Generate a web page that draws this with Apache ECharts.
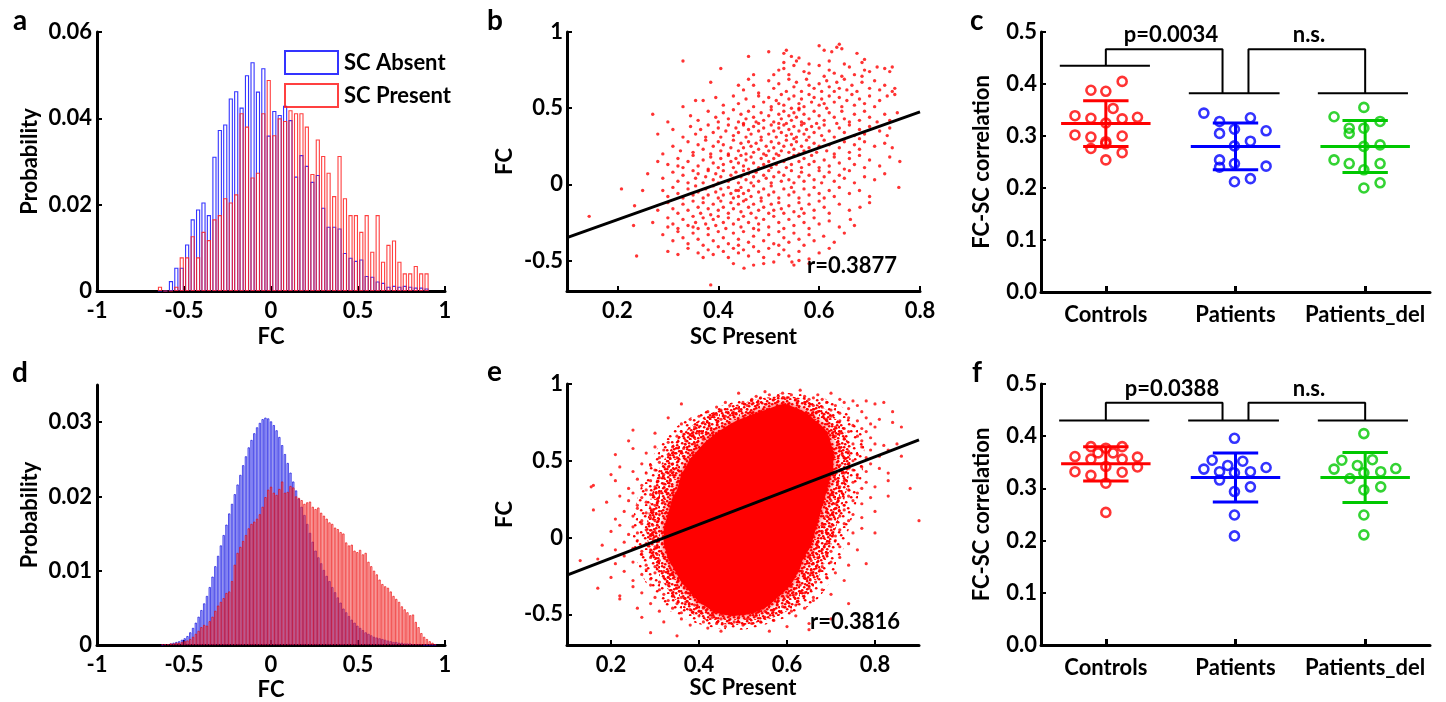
<!DOCTYPE html>
<html><head><meta charset="utf-8">
<script src="https://cdn.jsdelivr.net/npm/echarts/dist/echarts.min.js"></script>
<style>html,body{margin:0;padding:0;background:#fff}#c{width:1446px;height:702px}</style>
</head><body><div id="c"></div>
<script>
// ---------- Panel a: histogram (bin centres, probabilities) ----------
const aCenters = [-0.638,-0.607,-0.575,-0.544,-0.513,-0.482,-0.450,-0.419,-0.388,-0.357,-0.325,-0.294,-0.263,-0.231,-0.200,-0.169,-0.138,-0.106,-0.075,-0.044,-0.013,0.019,0.050,0.081,0.112,0.144,0.175,0.206,0.238,0.269,0.300,0.331,0.363,0.394,0.425,0.457,0.488,0.519,0.550,0.582,0.613,0.644,0.675,0.707,0.738,0.769,0.800,0.832,0.863,0.894];
const aAbsent = [0,0,0.0023,0.0054,0.0054,0.0108,0.0166,0.0189,0.0205,0.0176,0.0311,0.0373,0.0386,0.0446,0.0463,0.0425,0.0500,0.0530,0.0462,0.0516,0.0360,0.0417,0.0408,0.0429,0.0396,0.0265,0.0315,0.0290,0.0253,0.0269,0.0193,0.0149,0.0149,0.0145,0.0088,0.0077,0.0070,0.0073,0.0035,0.0033,0.0022,0.0019,0.0010,0.0012,0.0010,0.0012,0.0010,0.0008,0.0008,0.0006];
const aPresent = [0.0010,0,0,0.0010,0.0078,0.0078,0.0127,0.0078,0.0137,0.0118,0.0166,0.0176,0.0215,0.0205,0.0224,0.0412,0.0381,0.0263,0.0274,0.0412,0.0489,0.0361,0.0400,0.0394,0.0419,0.0412,0.0412,0.0381,0.0271,0.0351,0.0313,0.0274,0.0220,0.0313,0.0215,0.0176,0.0176,0.0137,0.0176,0.0091,0.0176,0.0068,0.0107,0.0117,0.0068,0.0041,0.0041,0.0058,0.0041,0.0041];

// ---------- Panel d: histogram ----------
const dCenters = [-0.624,-0.608,-0.592,-0.576,-0.560,-0.544,-0.528,-0.512,-0.496,-0.480,-0.464,-0.448,-0.432,-0.416,-0.400,-0.384,-0.368,-0.352,-0.336,-0.320,-0.304,-0.288,-0.272,-0.256,-0.240,-0.224,-0.208,-0.192,-0.176,-0.160,-0.144,-0.128,-0.112,-0.096,-0.080,-0.064,-0.048,-0.032,-0.016,0.000,0.016,0.032,0.048,0.064,0.080,0.096,0.112,0.128,0.144,0.160,0.176,0.192,0.208,0.224,0.240,0.256,0.272,0.288,0.304,0.320,0.336,0.352,0.368,0.384,0.400,0.416,0.432,0.448,0.464,0.480,0.496,0.512,0.528,0.544,0.560,0.576,0.592,0.608,0.624,0.640,0.656,0.672,0.688,0.704,0.720,0.736,0.752,0.768,0.784,0.800,0.816,0.832,0.848,0.864,0.880,0.896,0.912,0.928,0.944];
const dAbsent = [0,0.0001,0.0001,0.0002,0.0003,0.0004,0.0005,0.0007,0.0009,0.0012,0.0017,0.0023,0.0030,0.0038,0.0047,0.0056,0.0066,0.0078,0.0092,0.0106,0.0120,0.0134,0.0148,0.0162,0.0177,0.0190,0.0203,0.0216,0.0229,0.0242,0.0254,0.0266,0.0276,0.0285,0.0293,0.0299,0.0304,0.0306,0.0305,0.0301,0.0296,0.0289,0.0280,0.0269,0.0257,0.0245,0.0232,0.0220,0.0208,0.0197,0.0186,0.0175,0.0163,0.0151,0.0139,0.0127,0.0118,0.0110,0.0101,0.0093,0.0086,0.0078,0.0071,0.0064,0.0057,0.0049,0.0044,0.0039,0.0034,0.0030,0.0026,0.0023,0.0020,0.0017,0.0015,0.0013,0.0011,0.0010,0.0009,0.0008,0.0007,0.0006,0.0005,0.0004,0.0004,0.0003,0.0003,0.0002,0.0002,0.0002,0.0001,0.0001,0.0001,0.0001,0,0,0,0,0];
const dPresent = [0.0001,0.0001,0.0001,0.0002,0.0002,0.0003,0.0003,0.0004,0.0005,0.0006,0.0008,0.0011,0.0015,0.0019,0.0024,0.0027,0.0026,0.0032,0.0038,0.0046,0.0053,0.0058,0.0063,0.0070,0.0072,0.0086,0.0108,0.0124,0.0132,0.0140,0.0148,0.0157,0.0163,0.0166,0.0170,0.0176,0.0186,0.0199,0.0209,0.0213,0.0205,0.0202,0.0210,0.0220,0.0205,0.0206,0.0214,0.0212,0.0200,0.0198,0.0195,0.0190,0.0192,0.0193,0.0186,0.0183,0.0185,0.0178,0.0174,0.0170,0.0165,0.0163,0.0158,0.0156,0.0152,0.0150,0.0138,0.0134,0.0135,0.0127,0.0125,0.0128,0.0122,0.0124,0.0112,0.0106,0.0100,0.0095,0.0088,0.0082,0.0079,0.0077,0.0072,0.0066,0.0062,0.0058,0.0052,0.0048,0.0044,0.0040,0.0041,0.0031,0.0024,0.0016,0.0011,0.0008,0.0005,0.0003,0.0001];

// ---------- Panel b: scatter (SC present, FC) ----------
const bPoints = [
[.33,.81],[.46,.84],[.50,.87],[.53,.86],[.535,.88],[.545,.84],[.56,.83],[.60,.91],[.61,.88],[.625,.87],[.635,.90],[.64,.92],[.645,.89],[.675,.86],[.69,.82],[.685,.80],[.53,.80],[.555,.81],[.62,.81],
[.405,.76],[.47,.72],[.51,.72],[.53,.76],[.54,.72],[.55,.78],[.57,.74],[.58,.73],[.60,.78],[.61,.71],[.62,.75],[.63,.73],[.645,.71],[.66,.77],[.67,.72],[.69,.75],[.70,.74],[.715,.77],[.73,.76],[.74,.74],[.745,.77],[.52,.75],[.58,.79],[.65,.79],[.685,.71],
[.385,.67],[.44,.65],[.45,.62],[.47,.65],[.48,.60],[.50,.68],[.51,.63],[.52,.66],[.535,.61],[.54,.69],[.55,.64],[.555,.67],[.565,.61],[.575,.69],[.59,.63],[.60,.66],[.605,.61],[.615,.68],[.62,.64],[.63,.61],[.635,.67],[.64,.63],[.65,.69],[.655,.62],[.665,.65],[.675,.61],[.685,.67],[.70,.63],[.71,.68],[.72,.62],[.73,.65],[.745,.61],[.75,.63],[.46,.69],[.58,.65],
[.33,.51],[.355,.55],[.37,.55],[.395,.57],[.41,.52],[.43,.58],[.44,.53],[.455,.56],[.47,.51],[.48,.58],[.49,.54],[.50,.57],[.505,.51],[.515,.55],[.525,.59],[.53,.52],[.54,.56],[.545,.50],[.55,.58],[.56,.53],[.565,.56],[.57,.51],[.58,.59],[.585,.54],[.59,.57],[.60,.52],[.605,.56],[.615,.50],[.62,.58],[.63,.54],[.64,.57],[.645,.51],[.655,.55],[.665,.59],[.67,.52],[.68,.56],[.69,.53],[.70,.58],[.71,.51],[.72,.55],[.735,.58],[.75,.59],[.52,.53],[.56,.50],[.61,.53],
[.27,.46],[.30,.41],[.345,.45],[.36,.42],[.38,.48],[.395,.44],[.40,.41],[.41,.47],[.42,.43],[.43,.49],[.44,.41],[.445,.46],[.45,.40],[.455,.43],[.46,.48],[.47,.44],[.475,.41],[.485,.47],[.49,.42],[.50,.45],[.505,.49],[.51,.41],[.52,.46],[.525,.43],[.53,.48],[.535,.40],[.54,.45],[.545,.42],[.55,.47],[.555,.44],[.56,.49],[.565,.41],[.57,.46],[.58,.43],[.59,.48],[.595,.40],[.60,.45],[.61,.42],[.62,.47],[.63,.44],[.635,.40],[.645,.48],[.65,.43],[.66,.41],[.67,.46],[.68,.42],[.69,.48],[.70,.44],[.715,.41],[.73,.46],[.74,.42],[.755,.47],[.48,.40],[.52,.40],[.57,.40],
[.28,.33],[.31,.36],[.33,.31],[.345,.38],[.355,.33],[.365,.36],[.375,.31],[.38,.39],[.39,.34],[.40,.37],[.405,.31],[.415,.35],[.42,.39],[.43,.32],[.435,.37],[.44,.34],[.45,.39],[.455,.31],[.46,.36],[.465,.33],[.47,.38],[.48,.35],[.485,.31],[.49,.37],[.50,.33],[.505,.39],[.51,.35],[.515,.31],[.52,.37],[.525,.34],[.53,.39],[.535,.32],[.54,.36],[.545,.33],[.55,.38],[.555,.31],[.56,.35],[.565,.39],[.57,.33],[.575,.36],[.58,.31],[.585,.38],[.59,.34],[.60,.37],[.605,.32],[.61,.39],[.62,.35],[.63,.31],[.64,.37],[.65,.34],[.66,.39],[.67,.32],[.68,.36],[.69,.33],[.70,.38],[.72,.35],[.735,.32],[.74,.37],[.68,.30],[.55,.30],
[.29,.20],[.31,.25],[.325,.22],[.34,.28],[.35,.21],[.36,.26],[.37,.23],[.375,.29],[.385,.20],[.39,.25],[.40,.28],[.405,.22],[.41,.26],[.42,.20],[.425,.24],[.43,.29],[.44,.22],[.445,.27],[.45,.24],[.455,.20],[.46,.28],[.465,.25],[.47,.21],[.475,.27],[.48,.23],[.485,.29],[.49,.20],[.495,.25],[.50,.22],[.505,.28],[.51,.24],[.515,.20],[.52,.27],[.525,.22],[.53,.25],[.535,.29],[.54,.21],[.545,.26],[.55,.23],[.555,.28],[.56,.20],[.565,.25],[.57,.22],[.575,.29],[.58,.24],[.59,.27],[.595,.21],[.60,.25],[.61,.29],[.615,.22],[.62,.26],[.63,.20],[.64,.24],[.65,.28],[.66,.21],[.67,.26],[.68,.23],[.69,.28],[.71,.25],[.73,.27],[.745,.24],
[.30,.13],[.32,.17],[.33,.11],[.34,.15],[.35,.19],[.36,.12],[.37,.16],[.38,.10],[.385,.18],[.39,.14],[.40,.11],[.405,.17],[.41,.13],[.42,.19],[.425,.15],[.43,.11],[.435,.17],[.44,.14],[.445,.19],[.45,.12],[.455,.16],[.46,.10],[.465,.18],[.47,.14],[.48,.11],[.485,.17],[.49,.13],[.495,.19],[.50,.15],[.505,.11],[.51,.17],[.515,.13],[.52,.19],[.53,.15],[.535,.11],[.54,.17],[.545,.13],[.55,.19],[.56,.15],[.565,.11],[.57,.17],[.58,.13],[.585,.19],[.59,.15],[.60,.11],[.61,.16],[.62,.12],[.63,.18],[.64,.14],[.65,.10],[.66,.17],[.67,.13],[.68,.19],[.69,.11],[.70,.16],[.72,.12],[.74,.18],[.76,.15],[.32,.12],[.28,.15],
[.26,.07],[.29,.04],[.31,.08],[.32,.02],[.33,.06],[.34,.01],[.35,.09],[.355,.04],[.36,.07],[.37,.01],[.375,.05],[.38,.09],[.39,.03],[.395,.07],[.40,.01],[.405,.05],[.41,.09],[.42,.02],[.425,.06],[.43,.04],[.435,.08],[.44,.01],[.445,.05],[.45,.09],[.455,.03],[.46,.07],[.465,.01],[.47,.05],[.475,.08],[.48,.02],[.49,.06],[.495,.04],[.50,.09],[.505,.01],[.51,.05],[.52,.08],[.525,.02],[.53,.06],[.54,.03],[.545,.09],[.55,.01],[.56,.05],[.565,.08],[.57,.02],[.58,.06],[.59,.03],[.60,.09],[.605,.01],[.61,.05],[.62,.08],[.63,.02],[.64,.06],[.65,.04],[.66,.09],[.67,.01],[.69,.05],[.71,.03],[.73,.07],
[.208,-.03],[.25,-.04],[.29,-.04],[.30,-.08],[.31,-.02],[.32,-.06],[.33,-.09],[.34,-.03],[.35,-.07],[.355,-.01],[.36,-.05],[.37,-.09],[.375,-.03],[.38,-.07],[.39,-.01],[.395,-.05],[.40,-.09],[.405,-.03],[.41,-.07],[.42,-.02],[.425,-.06],[.43,-.09],[.435,-.04],[.44,-.08],[.445,-.02],[.45,-.06],[.455,-.10],[.46,-.04],[.465,-.08],[.47,-.01],[.48,-.05],[.485,-.09],[.49,-.03],[.50,-.07],[.505,-.01],[.51,-.05],[.52,-.09],[.53,-.03],[.54,-.07],[.545,-.02],[.55,-.05],[.56,-.09],[.57,-.03],[.58,-.07],[.59,-.02],[.60,-.06],[.61,-.09],[.62,-.04],[.63,-.08],[.64,-.02],[.66,-.06],[.68,-.04],[.70,-.08],[.758,-.02],[.44,-.04],
[.144,-.21],[.234,-.14],[.28,-.17],[.30,-.12],[.31,-.16],[.32,-.19],[.33,-.13],[.34,-.17],[.35,-.11],[.36,-.15],[.365,-.19],[.37,-.12],[.38,-.16],[.385,-.20],[.39,-.13],[.40,-.17],[.405,-.11],[.41,-.15],[.42,-.19],[.425,-.12],[.43,-.16],[.44,-.13],[.445,-.18],[.45,-.11],[.46,-.15],[.465,-.19],[.47,-.13],[.48,-.17],[.485,-.11],[.49,-.15],[.50,-.19],[.505,-.13],[.51,-.17],[.52,-.12],[.525,-.16],[.53,-.19],[.54,-.14],[.55,-.18],[.56,-.12],[.565,-.16],[.57,-.19],[.58,-.13],[.59,-.17],[.60,-.11],[.61,-.15],[.62,-.19],[.64,-.13],[.66,-.17],[.681,-.15],[.70,-.12],
[.232,-.27],[.27,-.25],[.30,-.22],[.31,-.26],[.32,-.29],[.33,-.23],[.34,-.27],[.35,-.21],[.355,-.25],[.36,-.29],[.37,-.22],[.375,-.26],[.38,-.29],[.39,-.23],[.395,-.27],[.40,-.21],[.41,-.25],[.415,-.29],[.42,-.22],[.43,-.26],[.44,-.23],[.445,-.28],[.45,-.21],[.46,-.25],[.47,-.29],[.475,-.22],[.48,-.26],[.49,-.23],[.50,-.28],[.51,-.21],[.52,-.25],[.53,-.29],[.54,-.23],[.55,-.27],[.56,-.21],[.57,-.25],[.58,-.29],[.59,-.22],[.60,-.26],[.62,-.24],[.64,-.28],[.662,-.23],[.67,-.27],[.30,-.28],[.35,-.28],
[.29,-.33],[.31,-.37],[.32,-.31],[.33,-.35],[.34,-.39],[.35,-.32],[.36,-.36],[.37,-.40],[.38,-.33],[.39,-.37],[.40,-.31],[.41,-.35],[.42,-.39],[.43,-.32],[.44,-.36],[.45,-.31],[.46,-.38],[.47,-.34],[.48,-.30],[.49,-.37],[.50,-.33],[.51,-.39],[.52,-.31],[.53,-.35],[.54,-.38],[.55,-.32],[.56,-.36],[.57,-.40],[.58,-.33],[.59,-.37],[.609,-.34],[.63,-.38],[.65,-.32],[.44,-.40],[.52,-.40],
[.238,-.47],[.30,-.44],[.32,-.46],[.34,-.42],[.36,-.45],[.37,-.48],[.38,-.43],[.39,-.46],[.40,-.41],[.41,-.44],[.42,-.48],[.43,-.42],[.44,-.45],[.45,-.43],[.46,-.47],[.47,-.41],[.48,-.44],[.49,-.48],[.50,-.42],[.52,-.46],[.53,-.43],[.54,-.47],[.56,-.44],[.58,-.49],[.60,-.45],[.62,-.42],
[.451,-.55],[.43,-.52],[.47,-.53],[.51,-.51],[.546,-.51],[.55,-.53],[.56,-.50],[.385,-.66],[.49,-.52],[.58,-.52]
];
const bFit = [[0.1,-0.35],[0.8,0.476]];

// ---------- Panel e: saturated core / dense-speckle / sparse-speckle outlines + sparse points ----------
const eCoreOutline = [[0.44,-0.49],[0.41,-0.44],[0.39,-0.39],[0.375,-0.34],[0.36,-0.29],[0.35,-0.24],[0.34,-0.19],[0.33,-0.14],[0.325,-0.09],[0.32,-0.04],[0.32,0.01],[0.32,0.06],[0.325,0.11],[0.33,0.16],[0.335,0.21],[0.34,0.26],[0.35,0.31],[0.355,0.36],[0.36,0.41],[0.37,0.46],[0.38,0.51],[0.395,0.56],[0.41,0.61],[0.43,0.66],[0.455,0.71],[0.485,0.76],[0.52,0.80],[0.56,0.84],[0.59,0.87],[0.615,0.85],[0.645,0.81],[0.665,0.76],[0.685,0.71],[0.695,0.66],[0.70,0.61],[0.705,0.56],[0.705,0.50],[0.705,0.45],[0.70,0.40],[0.695,0.35],[0.69,0.30],[0.685,0.25],[0.68,0.20],[0.675,0.15],[0.67,0.10],[0.665,0.05],[0.66,0],[0.655,-0.05],[0.645,-0.10],[0.635,-0.15],[0.63,-0.20],[0.62,-0.25],[0.61,-0.30],[0.595,-0.35],[0.575,-0.40],[0.555,-0.45],[0.525,-0.49],[0.48,-0.51]];
const eInnerOutline = [[0.43,-0.55],[0.38,-0.49],[0.35,-0.42],[0.33,-0.34],[0.31,-0.25],[0.295,-0.15],[0.285,-0.05],[0.28,0.05],[0.285,0.15],[0.29,0.25],[0.30,0.35],[0.31,0.45],[0.33,0.55],[0.35,0.64],[0.38,0.72],[0.42,0.80],[0.48,0.86],[0.55,0.91],[0.60,0.92],[0.64,0.90],[0.68,0.85],[0.71,0.78],[0.73,0.70],[0.74,0.60],[0.745,0.50],[0.74,0.40],[0.735,0.30],[0.725,0.20],[0.715,0.10],[0.705,0],[0.695,-0.10],[0.68,-0.20],[0.665,-0.30],[0.64,-0.40],[0.60,-0.48],[0.55,-0.54],[0.49,-0.57]];
const eBandOutline = [[0.42,-0.58],[0.36,-0.52],[0.32,-0.45],[0.30,-0.38],[0.28,-0.30],[0.265,-0.20],[0.255,-0.10],[0.25,0],[0.25,0.10],[0.255,0.20],[0.265,0.30],[0.275,0.40],[0.29,0.50],[0.31,0.60],[0.34,0.70],[0.38,0.78],[0.44,0.85],[0.52,0.91],[0.58,0.94],[0.65,0.93],[0.70,0.89],[0.74,0.82],[0.765,0.72],[0.775,0.60],[0.775,0.50],[0.77,0.40],[0.765,0.30],[0.755,0.20],[0.745,0.10],[0.735,0],[0.725,-0.10],[0.71,-0.20],[0.695,-0.30],[0.67,-0.40],[0.63,-0.48],[0.57,-0.55],[0.50,-0.60]];
const ePoints = [
[.49,.94],[.53,.92],[.55,.95],[.56,.93],[.58,.92],[.59,.94],[.60,.91],[.61,.93],[.63,.96],[.64,.92],[.66,.91],[.67,.93],[.70,.94],[.72,.90],[.52,.90],[.54,.91],[.57,.90],[.62,.90],[.65,.90],[.68,.90],
[.36,.87],[.42,.82],[.44,.85],[.45,.83],[.46,.88],[.47,.86],[.48,.81],[.49,.84],[.50,.88],[.51,.86],[.52,.89],[.535,.87],[.64,.88],[.66,.86],[.67,.82],[.68,.85],[.69,.88],[.70,.83],[.71,.86],[.72,.81],[.73,.88],[.74,.84],[.75,.89],[.76,.86],[.78,.89],[.80,.87],[.82,.88],[.77,.82],[.84,.82],
[.25,.70],[.33,.78],[.36,.74],[.38,.77],[.39,.72],[.40,.79],[.41,.75],[.42,.71],[.425,.78],[.44,.80],[.45,.77],[.46,.79],[.70,.79],[.71,.72],[.72,.76],[.73,.71],[.74,.78],[.75,.73],[.76,.76],[.77,.71],[.78,.78],[.79,.74],[.80,.72],[.81,.77],[.84,.75],[.86,.72],[.69,.77],
[.24,.63],[.30,.68],[.33,.62],[.35,.66],[.36,.69],[.37,.63],[.38,.67],[.39,.61],[.40,.68],[.41,.64],[.39,.65],[.715,.62],[.72,.68],[.73,.64],[.74,.69],[.75,.61],[.76,.66],[.77,.63],[.78,.69],[.79,.65],[.80,.61],[.82,.60],[.85,.61],[.71,.66],
[.21,.54],[.25,.58],[.28,.55],[.30,.59],[.31,.52],[.32,.57],[.33,.54],[.34,.59],[.35,.52],[.36,.56],[.37,.51],[.365,.58],[.72,.58],[.73,.52],[.74,.56],[.75,.50],[.76,.54],[.77,.59],[.78,.52],[.79,.57],[.81,.53],[.86,.53],[.83,.57],[.725,.54],
[.20,.41],[.22,.46],[.25,.43],[.27,.48],[.28,.42],[.29,.47],[.30,.44],[.31,.49],[.32,.41],[.33,.46],[.335,.43],[.34,.48],[.72,.47],[.73,.42],[.74,.48],[.75,.44],[.76,.41],[.77,.46],[.78,.43],[.79,.48],[.81,.45],[.83,.42],[.725,.44],
[.16,.34],[.155,.33],[.21,.37],[.24,.32],[.26,.38],[.27,.34],[.28,.31],[.29,.37],[.30,.33],[.31,.39],[.32,.35],[.325,.31],[.335,.37],[.71,.38],[.72,.33],[.73,.37],[.74,.31],[.75,.36],[.76,.39],[.77,.32],[.78,.36],[.80,.33],[.83,.37],[.88,.32],[.715,.35],
[.19,.23],[.22,.27],[.24,.24],[.25,.29],[.26,.21],[.27,.26],[.28,.23],[.29,.28],[.30,.21],[.305,.25],[.31,.29],[.32,.23],[.70,.28],[.71,.22],[.72,.26],[.73,.21],[.74,.27],[.75,.24],[.76,.29],[.77,.22],[.79,.26],[.83,.27],[.70,.24],
[.16,.18],[.21,.12],[.23,.17],[.25,.14],[.26,.19],[.27,.11],[.28,.16],[.29,.13],[.295,.18],[.30,.11],[.31,.15],[.69,.17],[.70,.12],[.71,.19],[.72,.14],[.73,.18],[.74,.11],[.75,.15],[.77,.13],[.90,.11],[.80,.17],[.69,.14],
[.20,.04],[.22,.08],[.24,.02],[.25,.07],[.26,.03],[.27,.09],[.28,.05],[.29,.01],[.295,.08],[.30,.04],[.68,.08],[.69,.03],[.70,.07],[.71,.01],[.72,.05],[.73,.09],[.75,.03],[.77,.06],[.80,.03],[.68,.04],
[.18,-.05],[.21,-.08],[.23,-.03],[.25,-.07],[.26,-.02],[.27,-.09],[.28,-.04],[.29,-.08],[.295,-.01],[.30,-.06],[.67,-.03],[.68,-.08],[.69,-.04],[.70,-.09],[.71,-.02],[.72,-.06],[.74,-.04],[.76,-.08],[.67,-.06],
[.13,-.15],[.17,-.14],[.21,-.17],[.23,-.12],[.25,-.16],[.27,-.11],[.28,-.18],[.29,-.13],[.30,-.19],[.305,-.11],[.31,-.15],[.65,-.12],[.66,-.17],[.67,-.13],[.68,-.19],[.69,-.11],[.70,-.16],[.72,-.13],[.74,-.18],[.78,-.17],[.655,-.15],
[.20,-.26],[.23,-.22],[.25,-.28],[.27,-.24],[.28,-.21],[.29,-.27],[.30,-.23],[.31,-.29],[.32,-.22],[.33,-.26],[.335,-.24],[.635,-.22],[.645,-.27],[.655,-.23],[.665,-.29],[.675,-.21],[.69,-.26],[.71,-.23],[.73,-.28],[.64,-.25],
[.17,-.33],[.22,-.38],[.25,-.32],[.27,-.36],[.29,-.31],[.30,-.39],[.31,-.34],[.32,-.37],[.33,-.31],[.34,-.38],[.35,-.33],[.36,-.39],[.37,-.36],[.61,-.32],[.62,-.37],[.63,-.31],[.64,-.36],[.65,-.33],[.66,-.39],[.68,-.34],[.70,-.37],[.60,-.38],
[.22,-.40],[.26,-.46],[.29,-.43],[.31,-.48],[.33,-.41],[.34,-.46],[.35,-.43],[.36,-.49],[.37,-.42],[.38,-.47],[.39,-.44],[.40,-.48],[.41,-.46],[.55,-.48],[.56,-.43],[.57,-.47],[.58,-.41],[.59,-.45],[.60,-.42],[.61,-.48],[.62,-.44],[.64,-.46],[.66,-.41],[.74,-.43],[.545,-.46],
[.27,-.52],[.32,-.55],[.36,-.53],[.38,-.57],[.40,-.51],[.41,-.55],[.42,-.59],[.43,-.52],[.44,-.56],[.45,-.53],[.46,-.58],[.47,-.51],[.48,-.55],[.49,-.52],[.50,-.57],[.51,-.53],[.52,-.56],[.53,-.51],[.54,-.55],[.55,-.52],[.57,-.54],[.60,-.58],[.62,-.51],[.65,-.56],[.70,-.53],[.45,-.50],[.50,-.50],
[.29,-.62],[.35,-.64],[.56,-.61],[.65,-.60],[.45,-.61]
];
const eFit = [[0.1,-0.245],[0.9,0.636]];

// ---------- Panels c and f: group scatter + mean ± SD ----------
const groups = ['Controls','Patients','Patients_del'];
const groupColors = ['#ff0000','#0000ff','#00c800'];
const cControls = [[1.126,.405],[.885,.388],[1.0,.386],[1.056,.353],[.762,.339],[.885,.334],[1.0,.325],[1.126,.333],[1.244,.336],[.762,.302],[.885,.298],[1.0,.289],[1.126,.300],[.885,.276],[1.0,.285],[1.126,.268],[1.0,.254]];
const cPatients = [[1.756,.344],[1.877,.328],[1.992,.313],[2.115,.335],[1.877,.305],[2.236,.310],[2.115,.290],[1.992,.281],[1.877,.254],[1.992,.247],[1.877,.240],[2.236,.242],[1.992,.212],[2.115,.218]];
const cPatientsDel = [[2.76,.337],[2.76,.254],[2.877,.315],[2.877,.305],[2.877,.247],[2.99,.355],[2.99,.315],[2.99,.280],[2.99,.235],[2.99,.200],[3.115,.328],[3.115,.283],[3.115,.247],[3.115,.210]];
const cMeans = [0.324,0.280,0.280];
const cSds = [0.044,0.045,0.050];
const cLevels = [[[.645,.435],[1.34,.435]],[[1.64,.382],[2.34,.382]],[[2.635,.382],[3.33,.382]]];
const cBrackets = [[[1,.435],[1,.467],[1.9,.467],[1.9,.382]],[[2.1,.382],[2.1,.467],[3,.467],[3,.382]]];
const cLabels = ['p=0.0034','n.s.'];

const fControls = [[.885,.380],[1.0,.377],[1.126,.380],[.94,.368],[1.056,.368],[.762,.361],[.885,.356],[1.126,.356],[1.244,.360],[1.0,.342],[.762,.332],[.885,.325],[1.126,.331],[1.244,.341],[1.0,.310],[1.0,.254]];
const fPatients = [[1.992,.396],[1.82,.354],[1.94,.344],[2.056,.352],[1.756,.337],[1.877,.332],[1.992,.330],[2.115,.332],[2.236,.340],[1.877,.316],[1.992,.294],[2.115,.303],[1.992,.249],[1.992,.209]];
const fPatientsDel = [[2.99,.405],[2.82,.354],[2.94,.344],[3.056,.355],[2.76,.337],[2.882,.319],[2.99,.330],[3.12,.332],[3.236,.338],[2.99,.297],[3.12,.303],[2.99,.249],[2.99,.211]];
const fMeans = [0.347,0.321,0.321];
const fSds = [0.033,0.047,0.048];
const fLevels = [[[.64,.43],[1.335,.43]],[[1.635,.43],[2.335,.43]],[[2.635,.43],[3.33,.43]]];
const fBrackets = [[[1,.43],[1,.464],[1.9,.464],[1.9,.43]],[[2.1,.43],[2.1,.464],[3,.464],[3,.43]]];
const fLabels = ['p=0.0388','n.s.'];

// ---------- build ----------
const FONT = 'Lato, "Open Sans", sans-serif';
const T = {color:'#000', fontFamily: FONT, fontWeight:'bold', fontSize: 22};
const LINE = {color:'#000', width:3};

function axis(grid, o) {
  return {
    gridIndex: grid, type: 'value', min: o.min, max: o.max,
    name: o.name || '', nameLocation: 'middle', nameGap: o.nameGap || 30,
    nameTextStyle: Object.assign({}, T),
    axisLine: {show: true, onZero: false, lineStyle: LINE},
    axisTick: {show: true, inside: true, length: o.tickLen || 5, customValues: o.ticks, lineStyle: {color:'#000', width: o.tickW || 2}},
    axisLabel: Object.assign({}, T, {margin: o.margin, customValues: o.ticks, formatter: o.fmt}),
    splitLine: {show: false}
  };
}

const grids = [
  {left:97, top:32, width:348, height:259},
  {left:567, top:32, width:353, height:259},
  {left:1041, top:32, width:389, height:260},
  {left:97, top:385, width:348, height:260},
  {left:567, top:384, width:352, height:261},
  {left:1041, top:384, width:389, height:261}
];
const histX = [-1,-0.5,0,0.5,1];
const numFmt = v => String(+v.toFixed(3));
const catFmt = v => groups[Math.round(v) - 1] || '';
const xAxes = [
  axis(0, {min:-1, max:1, ticks: histX, name:'FC', nameGap:35, margin:9, fmt: numFmt}),
  axis(1, {min:0.1, max:0.8, ticks:[0.2,0.4,0.6,0.8], name:'SC Present', nameGap:35, margin:9, fmt: numFmt}),
  axis(2, {min:0.5, max:3.5, ticks:[1,2,3], margin:12, fmt: catFmt, tickLen:6, tickW:3}),
  axis(3, {min:-1, max:1, ticks: histX, name:'FC', nameGap:34, margin:9, fmt: numFmt}),
  axis(4, {min:0.1, max:0.9, ticks:[0.2,0.4,0.6,0.8], name:'SC Present', nameGap:32, margin:9, fmt: numFmt}),
  axis(5, {min:0.5, max:3.5, ticks:[1,2,3], margin:12, fmt: catFmt, tickLen:6, tickW:3})
];
const yAxes = [
  axis(0, {min:0, max:0.06, ticks:[0,0.02,0.04,0.06], name:'Probability', nameGap:56, margin:5, fmt: numFmt}),
  axis(1, {min:-0.7, max:1, ticks:[-0.5,0,0.5,1], name:'FC', nameGap:51, margin:4, fmt: numFmt}),
  axis(2, {min:0, max:0.5, ticks:[0,0.1,0.2,0.3,0.4,0.5], name:'FC-SC correlation', nameGap:48, margin:4, fmt: v => v.toFixed(1)}),
  axis(3, {min:0, max:0.035, ticks:[0,0.01,0.02,0.03], name:'Probability', nameGap:56, margin:5, fmt: numFmt}),
  axis(4, {min:-0.7, max:1, ticks:[-0.5,0,0.5,1], name:'FC', nameGap:51, margin:4, fmt: numFmt}),
  axis(5, {min:0, max:0.5, ticks:[0,0.1,0.2,0.3,0.4,0.5], name:'FC-SC correlation', nameGap:48, margin:4, fmt: v => v.toFixed(1)})
];

const zip = (xs, ys) => xs.map((x, i) => [x, ys[i]]);
const series = [];
function hist(g, name, centers, vals, fill, stroke, w, bw) {
  series.push({type:'bar', name, xAxisIndex:g, yAxisIndex:g, data: zip(centers, vals), barWidth: w, barGap:'-100%',
    itemStyle:{color: fill, borderColor: stroke, borderWidth: bw}, silent:true});
}
hist(0, 'SC Absent', aCenters, aAbsent, 'rgba(0,0,0,0)', 'rgba(30,30,255,0.9)', 4.2, 1.1);
hist(0, 'SC Present', aCenters, aPresent, 'rgba(0,0,0,0)', 'rgba(255,30,30,0.85)', 4.2, 1.1);
hist(3, 'd SC Absent', dCenters, dAbsent, 'rgba(110,110,255,0.5)', 'rgba(0,0,220,0.9)', 2.2, 0.7);
hist(3, 'd SC Present', dCenters, dPresent, 'rgba(255,100,100,0.45)', 'rgba(235,0,0,0.9)', 2.2, 0.7);

function fitLine(g, data) {
  series.push({type:'line', xAxisIndex:g, yAxisIndex:g, data, symbol:'none', z:6, lineStyle:{color:'#000', width:3}, silent:true});
}
series.push({type:'scatter', xAxisIndex:1, yAxisIndex:1, data: bPoints, symbolSize:3.4, itemStyle:{color:'#ff0000'}, silent:true});
fitLine(1, bFit);

// speckle texture used to render the over-plotted dot density of panel e
function speckle(size, dots) {
  const cv = document.createElement('canvas'); cv.width = cv.height = size;
  const ctx = cv.getContext('2d'); ctx.fillStyle = '#ff0000';
  dots.forEach(([x, y]) => { ctx.beginPath(); ctx.arc(x + 1.2, y + 1.2, 1.3, 0, Math.PI * 2); ctx.fill(); });
  return {image: cv, repeat: 'repeat'};
}
const denseTex = speckle(20, [[1,2],[6,0],[11,3],[16,1],[3,6],[8,5],[13,8],[18,6],[0,10],[5,11],[10,9],[15,12],[2,15],[7,16],[12,14],[17,17],[4,19],[9,18],[14,19],[19,14],[6,8],[11,12],[16,4],[1,12],[8,2],[13,16],[3,17],[18,10],[9,14],[15,7],[4,3],[12,11],[17,0],[7,12]]);
const sparseTex = speckle(22, [[2,3],[11,1],[17,7],[6,9],[14,12],[1,15],[9,17],[18,18],[4,6],[12,5],[20,12],[7,20]]);

function areaOutline(g, outline, style) {
  series.push({type:'custom', xAxisIndex:g, yAxisIndex:g, data: outline, encode:{x:0, y:1}, silent:true,
    renderItem: (p, api) => p.dataIndex !== 0 ? null :
      {type:'polygon', shape:{points: outline.map(pt => api.coord(pt)), smooth: 0.3}, style}});
}
areaOutline(4, eBandOutline, {fill: sparseTex});
areaOutline(4, eInnerOutline, {fill: denseTex});
series.push({type:'scatter', xAxisIndex:4, yAxisIndex:4, data: ePoints, symbolSize:3.2, itemStyle:{color:'#ff0000'}, silent:true});
areaOutline(4, eCoreOutline, {fill:'#ff0000', shadowBlur:8, shadowColor:'rgba(255,0,0,0.9)'});
fitLine(4, eFit);

function groupPanel(g, pts, means, sds, levels, brackets) {
  pts.forEach((d, i) => series.push({type:'scatter', xAxisIndex:g, yAxisIndex:g, data:d, symbol:'circle', symbolSize:9,
    itemStyle:{color:'rgba(0,0,0,0)', borderColor: groupColors[i], borderWidth:2.6}, silent:true}));
  series.push({type:'custom', xAxisIndex:g, yAxisIndex:g, z:4, silent:true,
    data: means.map((m, i) => [i + 1, m, sds[i]]), encode:{x:0, y:1},
    renderItem: (p, api) => {
      const x = api.value(0), m = api.value(1), s = api.value(2);
      const segs = [[[x-0.345,m],[x+0.345,m]], [[x-0.175,m+s],[x+0.175,m+s]], [[x-0.175,m-s],[x+0.175,m-s]], [[x,m-s],[x,m+s]]];
      return {type:'group', children: segs.map(([u, v]) => {
        const a = api.coord(u), b = api.coord(v);
        return {type:'line', shape:{x1:a[0], y1:a[1], x2:b[0], y2:b[1]}, style:{stroke: groupColors[p.dataIndex], lineWidth:3}};
      })};
    }});
  levels.concat(brackets).forEach(d => series.push({type:'line', xAxisIndex:g, yAxisIndex:g, data:d, symbol:'none', silent:true,
    lineStyle:{color:'#000', width:2}}));
}
groupPanel(2, [cControls, cPatients, cPatientsDel], cMeans, cSds, cLevels, cBrackets);
groupPanel(5, [fControls, fPatients, fPatientsDel], fMeans, fSds, fLevels, fBrackets);

function txt(text, x, y, size, align) {
  return {type:'text', x, y, z:10, style:{text, fill:'#000', font:'bold ' + size + 'px Lato', align: align || 'left', verticalAlign:'middle'}};
}
const graphic = [
  txt('a', 13, 21, 28), txt('b', 487, 21, 28), txt('c', 970, 21, 28),
  txt('d', 12, 373, 28), txt('e', 487, 372, 28), txt('f', 972, 373, 28),
  txt('r=0.3877', 897, 266, 22, 'right'), txt('r=0.3816', 900, 622, 22, 'right'),
  txt(cLabels[0], 1171, 35, 22, 'center'), txt(cLabels[1], 1309, 35, 22, 'center'),
  txt(fLabels[0], 1172, 389, 22, 'center'), txt(fLabels[1], 1309, 389, 22, 'center')
];

const chart = echarts.init(document.getElementById('c'), null, {renderer:'canvas'});
chart.setOption({
  animation:false, backgroundColor:'#fff',
  grid: grids, xAxis: xAxes, yAxis: yAxes, series, graphic,
  legend: {data:['SC Absent','SC Present'], left:279, top:45, orient:'vertical', itemWidth:53, itemHeight:23, itemGap:8,
    icon:'rect', selectedMode:false, textStyle: Object.assign({}, T, {padding:[0,0,0,1]})}
});
</script>
</body></html>
